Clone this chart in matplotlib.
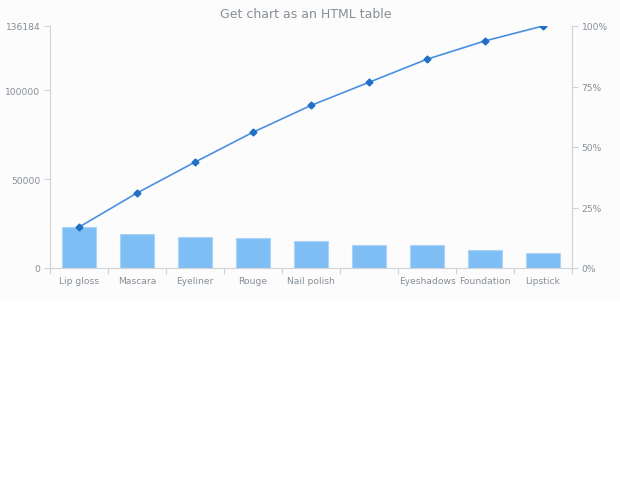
import matplotlib.pyplot as plt
import numpy as np

categories = ['Lip gloss', 'Mascara', 'Eyeliner', 'Rouge', 'Nail polish',
              '', 'Eyeshadows', 'Foundation', 'Lipstick']
sales = [22998, 19200, 17400, 16800, 15100, 13000, 13000, 10300, 8386]

total = sum(sales)
cum_pct = np.cumsum(sales) / total * 100
x = np.arange(len(categories))

grey = '#858e96'
axis_col = '#cfd3d6'

fig = plt.figure(figsize=(6.2, 4.81), dpi=100)
# faint panel behind the chart area
fig.patches.append(plt.Rectangle((0, 1 - 300 / 481), 1, 300 / 481, transform=fig.transFigure,
                                 facecolor='#fcfcfc', edgecolor='none', zorder=-10))
ax = fig.add_axes([50 / 620, 1 - 269 / 481, 522 / 620, 242 / 481])
ax.patch.set_alpha(0)
ax2 = ax.twinx()

ax.bar(x, sales, width=0.57, color='#7fbef5', edgecolor='#a9d3f8', linewidth=0.8, zorder=2)
ax2.plot(x, cum_pct, color='#4a90e2', linewidth=1.2, marker='D', markersize=3.5,
         markerfacecolor='#1f6fc5', markeredgecolor='#1f6fc5', zorder=3)

ax.set_xlim(-0.5, len(categories) - 0.5)
ax.set_ylim(0, total)
ax2.set_ylim(0, 100)

ax.set_yticks([0, 50000, 100000, total])
ax.set_yticklabels(['0', '50000', '100000', str(total)])
ax2.set_yticks([0, 25, 50, 75, 100])
ax2.set_yticklabels(['0%', '25%', '50%', '75%', '100%'])

ax.set_xticks(x)
ax.set_xticklabels(categories)
ax.set_xticks(np.arange(len(categories) + 1) - 0.5, minor=True)
ax.tick_params(axis='x', which='major', length=0, pad=6, labelsize=6.6, labelcolor=grey)
ax.tick_params(axis='x', which='minor', length=4, color=axis_col, width=0.8)
ax.tick_params(axis='y', length=4, color=axis_col, width=0.8, labelsize=6.6, labelcolor=grey, pad=3)
ax2.tick_params(axis='y', length=4, color=axis_col, width=0.8, labelsize=6.6, labelcolor=grey, pad=3)

for a in (ax, ax2):
    for s in a.spines.values():
        s.set_visible(False)
ax.spines['left'].set_visible(True)
ax.spines['bottom'].set_visible(True)
ax2.spines['right'].set_visible(True)
ax.spines['left'].set_color(axis_col)
ax.spines['bottom'].set_color(axis_col)
ax2.spines['right'].set_color(axis_col)
for s in (ax.spines['left'], ax.spines['bottom'], ax2.spines['right']):
    s.set_linewidth(0.8)

fig.text(306 / 620, 1 - 14 / 481, 'Get chart as an HTML table', ha='center', va='center',
         fontsize=9, color=grey)

fig.savefig('out.png', dpi=100, facecolor='white')
